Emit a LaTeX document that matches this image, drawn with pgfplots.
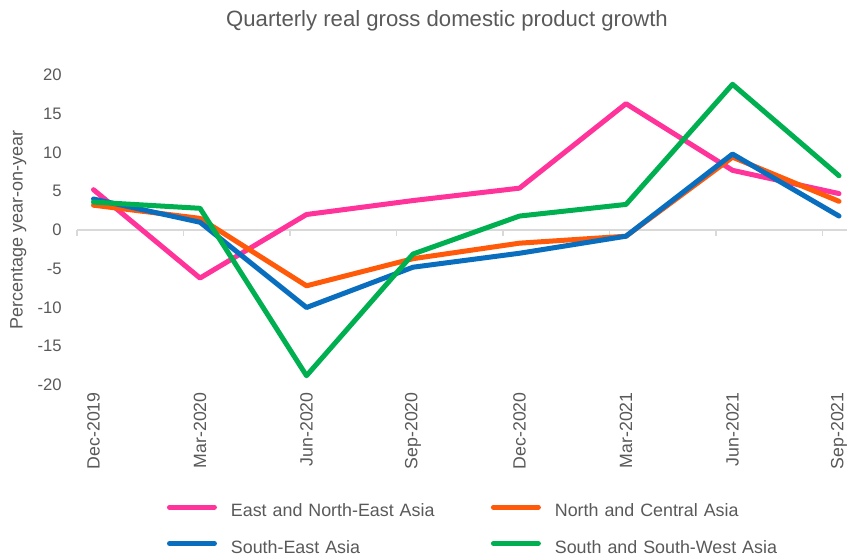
\documentclass[border=0pt]{standalone}
\usepackage{pgfplots}
\pgfplotsset{compat=1.18}
\usepackage{fontspec}
\setmainfont{Liberation Sans}
\definecolor{txt}{HTML}{595959}
\definecolor{zeroline}{HTML}{D9D9D9}
\definecolor{enea}{HTML}{FF3399}
\definecolor{nca}{HTML}{FF5A0A}
\definecolor{sea}{HTML}{0A6EBE}
\definecolor{ssw}{HTML}{00B050}

\begin{document}
\begin{tikzpicture}
\begin{axis}[name=ax,scale only axis,width=577.5pt,height=232.5pt,
  xmin=-0.155,xmax=7.075,ymin=-20,ymax=20,
  axis line style={draw=none},tick style={draw=none},major tick length=0pt,
  ytick={-20,-15,...,20},
  xtick={0,...,7},
  xticklabels={Dec-2019,Mar-2020,Jun-2020,Sep-2020,Dec-2020,Mar-2021,Jun-2021,Sep-2021},
  x tick label style={rotate=90,anchor=east,font=\fontsize{13.3}{15}\selectfont,text=txt,xshift=-2pt},
  y tick label style={font=\fontsize{12.5}{15}\selectfont,text=txt,xshift=-8pt},
  /pgf/number format/assume math mode=true,
  clip=false,
  every axis plot/.append style={line width=3.75pt,line join=round,line cap=round},
  legend columns=2,
  legend image code/.code={\draw[#1,line width=3.75pt,line cap=round] (1.9pt,4.3pt) -- (35.6pt,4.3pt);},
  legend style={draw=none,fill=none,inner sep=0pt,outer sep=0pt,
    at={(0,0)},anchor=north west,xshift=67.5pt,yshift=-89.8pt,
    font=\fontsize{13.4}{16}\selectfont,text=txt,
    nodes={inner sep=0pt,text height=9pt,text depth=3pt,text width=195pt,align=left},
    row sep=15pt,
    /tikz/every odd column/.append style={column sep=10.5pt},
    /tikz/every even column/.append style={column sep=0pt}},
]
\addplot[zeroline,line width=0.9pt,line cap=butt,forget plot] coordinates {(-0.155,0) (7.075,0)};
\foreach \k in {0,...,7} {
  \edef\temp{\noexpand\draw[zeroline,line width=0.9pt] (axis cs:{\k-0.155},0) -- ++(0pt,-4.3pt);}
  \temp
}
\addplot[enea] coordinates {(0,5.2) (1,-6.2) (2,2.0) (3,3.8) (4,5.4) (5,16.3) (6,7.7) (7,4.7)};
\addlegendentry{East and North-East Asia}
\addplot[nca] coordinates {(0,3.2) (1,1.5) (2,-7.2) (3,-3.7) (4,-1.7) (5,-0.8) (6,9.4) (7,3.7)};
\addlegendentry{North and Central Asia}
\addplot[sea] coordinates {(0,4.0) (1,1.0) (2,-10.0) (3,-4.8) (4,-3.0) (5,-0.8) (6,9.8) (7,1.8)};
\addlegendentry{South-East Asia}
\addplot[ssw] coordinates {(0,3.6) (1,2.8) (2,-18.8) (3,-3.1) (4,1.8) (5,3.3) (6,18.8) (7,7.0)};
\addlegendentry{South and South-West Asia}
\end{axis}
\node[rotate=90,text=txt,font=\fontsize{13.5}{16}\selectfont] at ([xshift=-44pt]ax.west) {Percentage year-on-year};
\node[text=txt,font=\fontsize{16.6}{19}\selectfont] at ([xshift=-11.25pt,yshift=40.5pt]ax.north) {Quarterly real gross domestic product growth};
\pgfresetboundingbox
\path[use as bounding box] ([xshift=-57.75pt,yshift=-128.25pt]ax.south west) rectangle ([yshift=56.25pt]ax.north east);
\end{tikzpicture}
\end{document}
